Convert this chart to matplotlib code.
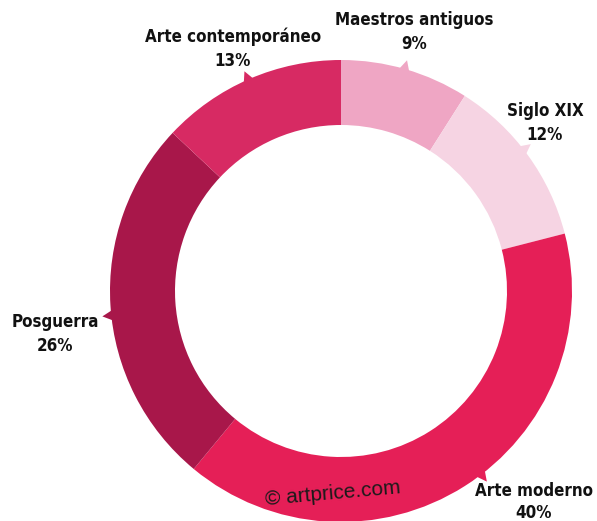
import numpy as np
import matplotlib
matplotlib.use("Agg")
import matplotlib.pyplot as plt
from matplotlib.patches import Polygon

categories = ["Maestros antiguos", "Siglo XIX", "Arte moderno", "Posguerra", "Arte contemporáneo"]
shares = [9, 12, 40, 26, 13]
colors = ["#EFA6C4", "#F6D4E3", "#E51F57", "#A8174A", "#D72A63"]

# label positions in pixels (x, y from top)
label_pos = [(414, 32), (545, 123), (534, 502), (55, 334), (233, 49)]

W, H = 597, 521
cx, cy = 341, 291
R, ring = 231, 65

fig = plt.figure(figsize=(W / 100, H / 100), dpi=100)
ax = fig.add_axes([0, 0, 1, 1])

wedges, _ = ax.pie(shares, colors=colors, startangle=90, counterclock=False,
                   radius=R, center=(cx, H - cy), frame=True,
                   wedgeprops=dict(width=ring, linewidth=0))

# small pointer triangles on the outer edge, leaning towards the label
cum = np.cumsum([0] + shares)
for i, s in enumerate(shares):
    mid = np.deg2rad(90 - (cum[i] + s / 2) * 3.6)
    lx, ly = label_pos[i]
    toward = np.arctan2(cy - ly, lx - cx)
    d = np.angle(np.exp(1j * (toward - mid)))
    a = mid + d / 2
    half = np.deg2rad(1.4)
    pts = [(cx + (R - 2) * np.cos(a - half), H - cy + (R - 2) * np.sin(a - half)),
           (cx + (R + 9) * np.cos(a), H - cy + (R + 9) * np.sin(a)),
           (cx + (R - 2) * np.cos(a + half), H - cy + (R - 2) * np.sin(a + half))]
    ax.add_patch(Polygon(pts, closed=True, color=colors[i], lw=0))

for i, (name, s, (x, y)) in enumerate(zip(categories, shares, label_pos)):
    ax.text(x, H - y, f"{name}\n{s}%", ha="center", va="center", fontsize=12.2,
            fontweight="bold", family="DejaVu Sans", fontstretch="condensed",
            linespacing=1.3 if i == 2 else 1.4, color="#111111")

ax.text(333, H - 494, "© artprice.com", ha="center", va="center", fontsize=15,
        rotation=5, color="#1a1a1a", family="Liberation Sans")

ax.set_xlim(0, W)
ax.set_ylim(0, H)
ax.set_aspect("equal")
ax.axis("off")

fig.savefig("out.png", dpi=100)
